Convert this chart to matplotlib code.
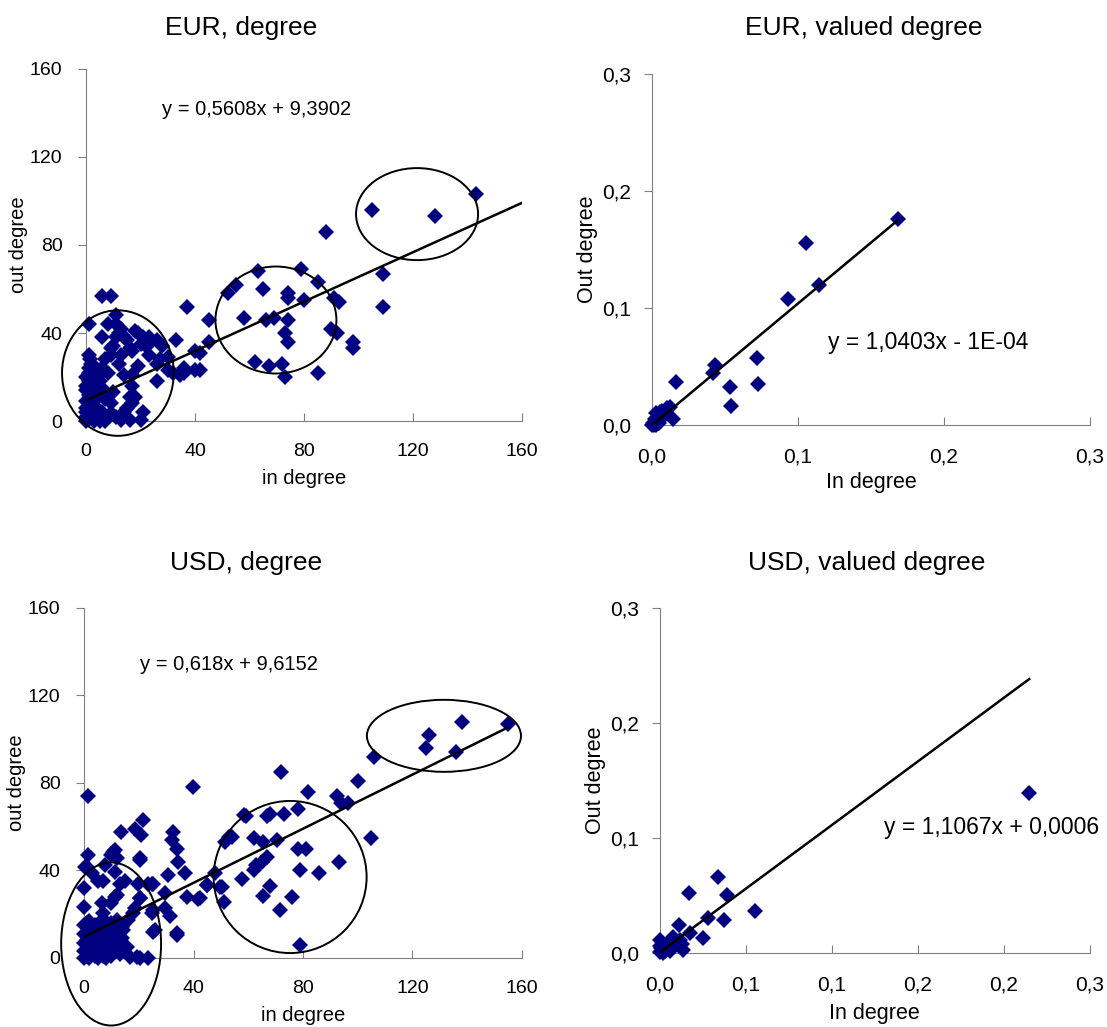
import numpy as np
import matplotlib.pyplot as plt
from matplotlib.patches import Ellipse

plt.rcParams['font.family'] = ['Liberation Sans', 'DejaVu Sans']

# EUR, degree (in degree, out degree)
eur_deg = [
    (143, 103), (105, 96), (128, 93), (88, 86), (109, 67), (109, 52), (63, 68), (79, 69),
    (55, 62), (52, 58), (65, 60), (74, 58), (74, 56), (85, 63), (80, 55), (91, 56), (93, 54),
    (45, 46), (58, 47), (66, 46), (69, 47), (74, 46), (73, 40), (74, 36), (90, 42), (92, 40),
    (98, 36), (98, 33), (45, 36), (42, 31), (42, 23), (62, 27), (67, 25), (72, 26), (73, 20),
    (85, 22),
    (6, 57), (9, 57), (1, 44), (37, 52), (11, 48), (8, 44), (18, 41), (23, 38), (6, 38),
    (11, 38), (15, 37), (26, 37), (33, 37), (40, 32), (30, 29), (23, 30), (9, 33), (17, 32),
    (1.5, 28), (3, 23), (19, 25), (26, 26), (32, 22), (36, 22), (40, 23), (0, 20), (0, 16),
    (3, 11), (10, 13), (17, 16), (16, 11), (17, 8), (0, 6), (0, 2), (5, 3.5), (9, 3.5),
    (14, 4), (13, 0.5), (21, 4), (20, 0.5), (16, 0.5), (7, 0), (3, 0),
    (1, 30), (2, 26), (1, 24), (3, 25), (1, 22), (2, 19), (4, 20), (1, 18), (3, 17), (0, 14),
    (2, 13), (1, 12), (3, 9), (0, 9), (2, 7), (1, 5), (4, 6), (0, 4), (2, 3), (1, 1), (3, 2),
    (0, 0), (5, 0), (4, 13), (5, 18), (6, 24), (7, 28), (8, 22), (6, 15), (9, 30), (10, 34),
    (12, 40), (13, 42), (11, 44), (14, 38), (16, 33), (20, 35), (22, 34), (19, 40), (21, 38),
    (24, 36), (27, 28), (28, 34), (30, 23), (26, 18), (14, 21), (12, 26), (13, 30), (17, 21),
    (18, 11), (15, 6), (11, 2), (9, 8), (7, 10), (6, 4), (36, 24), (34.5, 21),
]

# EUR, valued degree
eur_val = [
    (0.1687, 0.176), (0.1055, 0.156), (0.1147, 0.1197), (0.0933, 0.1074), (0.0717, 0.0578),
    (0.0729, 0.035), (0.0434, 0.0513), (0.0418, 0.0442), (0.0533, 0.0328), (0.0538, 0.0162),
    (0.0165, 0.0368), (0.0124, 0.0157), (0.0147, 0.0057), (0.0104, 0.0148), (0.007, 0.012),
    (0.0055, 0.011), (0.0044, 0.0015), (0.003, 0.0), (0.0016, 0.0004), (0.009, 0.009),
    (0.006, 0.006), (0.003, 0.01), (0.001, 0.002), (0.0, 0.0), (0.002, 0.005), (0.005, 0.002),
]

# USD, degree
usd_deg = [
    (155, 107), (138, 108), (126, 102), (125, 96), (136, 94), (106, 92), (100, 81), (72, 85),
    (82, 76), (92.5, 74), (94, 71), (96.5, 71), (78, 68), (68, 66), (73, 66), (67, 65),
    (59, 65), (53, 55.5), (51.5, 53), (62, 55), (65.5, 53), (70.6, 54), (78, 50), (81, 50),
    (67, 46), (65, 44), (63, 42.5), (62, 40), (105, 55), (93, 44), (79, 40), (86, 39),
    (57.6, 36), (48, 39), (45, 33.4), (49.7, 32.6), (51, 25.7), (42.4, 27.3), (68, 33),
    (65.5, 28.3), (76, 27.7), (71.6, 22), (79, 6),
    (1.6, 74), (39.7, 78), (21.7, 63), (18.6, 59), (20.7, 56), (13.5, 57.7), (58.6, 65.4),
    (54, 55.5), (32.6, 57.7), (32, 54), (33.8, 50), (34.4, 44), (37, 38.7), (20.5, 45.6),
    (1.6, 47), (10, 47), (11.3, 49.4), (11.3, 39.5), (0.4, 41.7), (2.8, 38.7), (7.1, 35),
    (0, 32), (13.2, 34), (19.8, 34), (23.5, 34), (25.3, 34), (30.8, 38), (44.8, 33.4),
    (50.3, 32.6), (29.6, 29.6), (37.5, 28), (41.8, 26.8), (0, 23.5), (6.5, 25), (11.3, 28),
    (20.5, 27.3), (31.4, 19), (25.3, 22), (18, 20.4), (26, 12.8), (33.8, 10.5), (7.1, 20.4),
    (12, 17.4), (13.8, 14.3), (15, 5.2), (16.8, 0.6), (20.5, 0), (23.5, 0),
    (10.7, 48.6), (11.9, 45.6), (7.7, 42.5), (1, 41.7), (5.2, 35), (15, 35), (20.5, 44.8),
    (24.7, 34), (20.5, 27.3), (18.6, 22.7), (11.9, 28.8), (10, 25), (24.7, 20.4),
    (29.6, 22.7), (25.3, 12), (33.9, 11.3), (15.6, 5.2), (19.3, 0.6), (10.7, 8.2),
    (14.4, 12.8), (16.2, 17.4),
    (0, 0), (1, 1), (2, 0), (3, 2), (4, 1), (5, 0), (6, 2), (7, 1), (8, 0), (9, 3), (10, 1),
    (0, 3), (1, 4), (2, 5), (3, 6), (4, 4), (5, 5), (6, 7), (0, 7), (1, 8), (2, 9), (3, 10),
    (4, 8), (5, 11), (0, 11), (1, 12), (2, 13), (3, 14), (0, 15), (1, 16), (2, 17), (4, 15),
    (6, 13), (7, 9), (8, 6), (9, 10), (10, 8), (11, 4), (12, 6), (13, 2), (8, 14), (10, 16),
    (12, 12), (7, 18), (14, 9),
]

# USD, valued degree
usd_val = [
    (0.2147, 0.1389), (0.0339, 0.0658), (0.0169, 0.0519), (0.0393, 0.0504), (0.0552, 0.0368),
    (0.0281, 0.0302), (0.0372, 0.0287), (0.0252, 0.0133), (0.0112, 0.0243), (0.0174, 0.0171),
    (0.0078, 0.0142), (0.0136, 0.0026), (0.0, 0.0113), (0.0039, 0.007), (0.0078, 0.0055),
    (0.0, 0.001), (0.002, 0.0), (0.0097, 0.0084), (0.0116, 0.0113), (0.0058, 0.0014),
    (0.001, 0.004), (0.003, 0.002), (0.0, 0.006), (0.005, 0.009), (0.013, 0.008),
]

titles = ['EUR, degree', 'EUR, valued degree', 'USD, degree', 'USD, valued degree']
equations = ['y = 0,5608x + 9,3902', 'y = 1,0403x - 1E-04',
             'y = 0,618x + 9,6152', 'y = 1,1067x + 0,0006']
slopes = [0.5608, 1.0403, 0.618, 1.1067]
intercepts = [9.3902, -0.0001, 9.6152, 0.0006]
line_ends = [160, 0.1687, 155, 0.2147]

deg_ticks = [0, 40, 80, 120, 160]
val_ticks = [0.0, 0.1, 0.2, 0.3]
val_labels = ['0,0', '0,1', '0,2', '0,3']
usd_val_xticks = [0.0, 0.05, 0.10, 0.15, 0.20, 0.25]
usd_val_xlabels = ['0,0', '0,1', '0,1', '0,2', '0,2', '0,3']

# circled groups (center x, center y, width, height) in data units
eur_groups = [(11.7, 21.8, 41, 57), (69.7, 45.9, 44.4, 48.6), (121.5, 94, 44.8, 41.8)]
usd_groups = [(9.9, 6.4, 36.5, 74.5), (75.3, 37, 55.9, 69.5), (131.5, 101.5, 56.3, 32.9)]

fig = plt.figure(figsize=(11.07, 10.27), dpi=100)
rects = [
    [0.0777, 0.590, 0.3938, 0.343],
    [0.589, 0.586, 0.3956, 0.342],
    [0.0759, 0.0672, 0.3956, 0.341],
    [0.596, 0.072, 0.3886, 0.336],
]
title_pos = [(0.218, 0.973), (0.780, 0.973), (0.222, 0.452), (0.783, 0.452)]
eq_pos = [(0.174, 0.884), (0.402, 0.234), (0.128, 0.837), (0.521, 0.365)]
xlabels = ['in degree', 'In degree', 'in degree', 'In degree']
ylabels = ['out degree', 'Out degree', 'out degree', 'Out degree']
xlabel_pads = [6, 4, 6, 6]
datasets = [eur_deg, eur_val, usd_deg, usd_val]
navy = '#000080'
grey = '#808080'

for i in range(4):
    ax = fig.add_axes(rects[i])
    pts = np.array(datasets[i])
    ax.plot(pts[:, 0], pts[:, 1], 'D', color=navy, markersize=8.5, markeredgewidth=0,
            clip_on=False, zorder=3)
    xs = np.array([0, line_ends[i]])
    ax.plot(xs, slopes[i] * xs + intercepts[i], color='black', lw=1.8, zorder=4)

    if i in (0, 2):
        ax.set_xlim(0, 160)
        ax.set_ylim(0, 160)
        ax.set_xticks(deg_ticks)
        ax.set_yticks(deg_ticks)
        groups = eur_groups if i == 0 else usd_groups
        for cx, cy, w, h in groups:
            ax.add_patch(Ellipse((cx, cy), w, h, fill=False, edgecolor='black', lw=1.4,
                                 clip_on=False, zorder=5))
        ax.set_xlabel(xlabels[i], fontsize=14.5, labelpad=xlabel_pads[i])
        ax.set_ylabel(ylabels[i], fontsize=14.5, labelpad=1)
        tsize, esize, ypad = 14, 14.5, 11
    else:
        ax.set_ylim(0, 0.3)
        ax.set_yticks(val_ticks)
        ax.set_yticklabels(val_labels)
        if i == 1:
            ax.set_xlim(0, 0.3)
            ax.set_xticks(val_ticks)
            ax.set_xticklabels(val_labels)
        else:
            ax.set_xlim(0, 0.25)
            ax.set_xticks(usd_val_xticks)
            ax.set_xticklabels(usd_val_xlabels)
        ax.set_xlabel(xlabels[i], fontsize=15.5, labelpad=xlabel_pads[i])
        ax.set_ylabel(ylabels[i], fontsize=15.5, labelpad=3)
        tsize, esize, ypad = 15, 16.5, 9

    for s in ['top', 'right']:
        ax.spines[s].set_visible(False)
    for s in ['left', 'bottom']:
        ax.spines[s].set_color(grey)
    ax.tick_params(axis='x', direction='in', length=6, color=grey, labelsize=tsize, pad=16)
    ax.tick_params(axis='y', direction='out', length=6, color=grey, labelsize=tsize, pad=ypad)

    ax.text(eq_pos[i][0], eq_pos[i][1], equations[i], transform=ax.transAxes,
            fontsize=esize, va='center', ha='left')
    fig.text(title_pos[i][0], title_pos[i][1], titles[i], fontsize=19,
             ha='center', va='center')

fig.savefig('out.png', dpi=100)
